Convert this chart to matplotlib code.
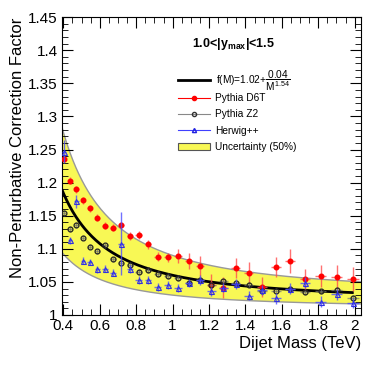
import numpy as np
import matplotlib
matplotlib.use("Agg")
import matplotlib.pyplot as plt
from matplotlib.lines import Line2D
from matplotlib.patches import Patch
from matplotlib.ticker import MultipleLocator

plt.rcParams['font.family'] = ['Liberation Sans', 'DejaVu Sans']
plt.rcParams['mathtext.fontset'] = 'custom'
plt.rcParams['mathtext.rm'] = 'Liberation Sans'
plt.rcParams['mathtext.it'] = 'Liberation Sans'
plt.rcParams['mathtext.bf'] = 'Liberation Sans:bold'

# dijet mass bin edges (TeV)
edges = np.array([0.386, 0.419, 0.453, 0.489, 0.526, 0.565, 0.606, 0.649, 0.693,
                  0.740, 0.788, 0.838, 0.890, 0.944, 1.000, 1.058, 1.118, 1.181,
                  1.246, 1.313, 1.383, 1.455, 1.530, 1.607, 1.687, 1.770, 1.856,
                  1.945, 2.037])

d6t = [1.236, 1.203, 1.190, 1.173, 1.161, 1.147, 1.135, 1.132, 1.136, 1.120,
       1.121, 1.107, 1.088, 1.087, 1.089, 1.082, 1.074, 1.046, 1.041, 1.071,
       1.064, 1.042, 1.073, 1.081, 1.054, 1.059, 1.057, 1.055]
d6t_err = [0.005, 0.005, 0.005, 0.005, 0.005, 0.005, 0.005, 0.005, 0.005, 0.006,
           0.006, 0.007, 0.007, 0.007, 0.010, 0.012, 0.015, 0.016, 0.016, 0.015,
           0.016, 0.015, 0.015, 0.018, 0.016, 0.016, 0.018, 0.018]

z2 = [1.154, 1.130, 1.136, 1.117, 1.103, 1.096, 1.105, 1.084, 1.079, 1.076,
      1.065, 1.068, 1.062, 1.059, 1.056, 1.049, 1.053, 1.046, 1.051, 1.048,
      1.046, 1.036, 1.037, 1.040, 1.034, 1.036, 1.038, 1.026]
z2_err = [0.004] * 28

herwig = [1.247, 1.113, 1.172, 1.082, 1.080, 1.069, 1.070, 1.064, 1.108, 1.070,
          1.053, 1.053, 1.043, 1.045, 1.041, 1.048, 1.053, 1.036, 1.041, 1.047,
          1.029, 1.038, 1.025, 1.040, 1.049, 1.020, 1.031, 1.018]
herwig_err = [0.018, 0.005, 0.010, 0.005, 0.005, 0.005, 0.005, 0.005, 0.047, 0.006,
              0.006, 0.006, 0.006, 0.006, 0.006, 0.006, 0.007, 0.007, 0.007, 0.007,
              0.007, 0.008, 0.008, 0.008, 0.008, 0.008, 0.008, 0.008]

# fit parameters f(M) = a + b / M^c
a, b, c = 1.02, 0.04, 1.54
unc = 0.5

centers = 0.5 * (edges[1:] + edges[:-1])
half = 0.5 * (edges[1:] - edges[:-1])

fig = plt.figure(figsize=(3.8, 3.65), dpi=100)
ax = fig.add_axes([0.163, 0.137, 0.787, 0.816])

mm = np.linspace(edges[0], edges[-1], 300)
f = a + b / mm**c
ax.fill_between(mm, 1 + (f - 1) * (1 - unc), 1 + (f - 1) * (1 + unc),
                facecolor='#f8f855', edgecolor='none', zorder=1)
ax.plot(mm, 1 + (f - 1) * (1 + unc), color='#999999', lw=1, zorder=1.5)
ax.plot(mm, 1 + (f - 1) * (1 - unc), color='#999999', lw=1, zorder=1.5)
mc = mm[mm <= 1.99]
ax.plot(mc, a + b / mc**c, color='black', lw=2, zorder=2)

ax.errorbar(centers, d6t, xerr=half * 0.7, yerr=d6t_err, fmt='o', ms=3.3,
            color='red', mec='red', ecolor=(1, 0.3, 0.3, 0.8), elinewidth=1,
            capsize=0, zorder=3)
ax.errorbar(centers, z2, xerr=half * 0.7, yerr=z2_err, fmt='o', ms=3.5,
            mfc='none', mec='#222222', mew=0.9, ecolor=(0.45, 0.45, 0.45, 0.7),
            elinewidth=1, capsize=0, zorder=4)
ax.errorbar(centers, herwig, xerr=half * 0.7, yerr=herwig_err, fmt='^', ms=3.6,
            mfc='none', mec='#3030e0', mew=0.8, ecolor=(0.3, 0.3, 1.0, 0.8),
            elinewidth=1, capsize=0, zorder=5)

ax.set_xlim(0.392, 2.035)
ax.set_ylim(1.0, 1.45)
ax.xaxis.set_minor_locator(MultipleLocator(0.05))
ax.yaxis.set_minor_locator(MultipleLocator(0.01))
ax.set_xticks(np.arange(0.4, 2.01, 0.2))
ax.set_xticklabels(['0.4', '0.6', '0.8', '1', '1.2', '1.4', '1.6', '1.8', '2'])
ax.set_yticks(np.arange(1.0, 1.451, 0.05))
ax.set_yticklabels(['1', '1.05', '1.1', '1.15', '1.2', '1.25', '1.3', '1.35', '1.4', '1.45'])
ax.tick_params(which='both', direction='in', top=True, right=True, labelsize=11, pad=3)
ax.tick_params(which='major', length=8)
ax.tick_params(which='minor', length=4)
ax.set_xlabel('Dijet Mass (TeV)', fontsize=12, loc='right', labelpad=2)
ax.set_ylabel('Non-Perturbative Correction Factor', fontsize=12, loc='top', labelpad=2)

ax.text(0.575, 0.91, r'1.0<|y$_{\bf max}$|<1.5', transform=ax.transAxes,
        fontsize=9, fontweight='bold', ha='center', va='center')

# legend: fit line on its own, then the samples
leg1 = ax.legend([Line2D([], [], color='black', lw=2)],
                 [r'f(M)=1.02+$\dfrac{0.04}{M^{1.54}}$'],
                 loc='center left', bbox_to_anchor=(0.37, 0.788),
                 frameon=False, fontsize=7.3, handlelength=3.2,
                 handletextpad=0.6, borderpad=0)
ax.add_artist(leg1)

handles = [
    Line2D([], [], color='red', lw=0.8, marker='o', ms=3),
    Line2D([], [], color='#888888', lw=0.8, marker='o', ms=3, mfc='none', mec='#333333'),
    Line2D([], [], color='#4040ff', lw=0.8, marker='^', ms=3, mfc='none', mec='#2020e0'),
    Patch(facecolor='#f8f855', edgecolor='#555555', lw=0.8),
]
labels = ['Pythia D6T', 'Pythia Z2', 'Herwig++', 'Uncertainty (50%)']
ax.legend(handles, labels, loc='upper left', bbox_to_anchor=(0.37, 0.762),
          frameon=False, fontsize=7.3, handlelength=3.2, handletextpad=0.5,
          labelspacing=0.62, borderpad=0)

fig.savefig('out.png', dpi=100)
